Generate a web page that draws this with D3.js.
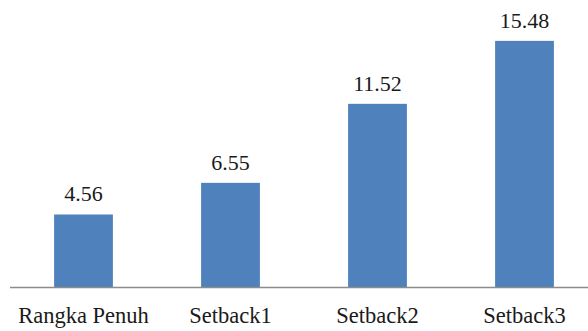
<!DOCTYPE html>
<html>
<head>
<meta charset="utf-8">
<script src="https://cdn.jsdelivr.net/npm/d3@7"></script>
<style>
  html, body { margin: 0; padding: 0; background: #fff; }
  svg { display: block; }
</style>
</head>
<body>
<svg id="chart" width="588" height="331" font-family="Times New Roman, Times, Liberation Serif, Tinos, DejaVu Serif, serif"></svg>
<script>
// Categories and their values
const categories = ["Rangka Penuh", "Setback1", "Setback2", "Setback3"];
const values = [4.56, 6.55, 11.52, 15.48];
const yMax = 18;

const svg = d3.select("#chart");
const baseY = 287;

const x = d3.scaleBand()
  .domain(categories)
  .range([10, 598])
  .paddingInner(0.6)
  .paddingOuter(0.3);

const y = d3.scaleLinear()
  .domain([0, yMax])
  .range([baseY, baseY - yMax * 15.9]);

const data = categories.map((c, i) => ({ c, v: values[i] }));

// Bars
svg.selectAll("rect.bar")
  .data(data)
  .join("rect")
  .attr("class", "bar")
  .attr("x", d => x(d.c))
  .attr("y", d => y(d.v))
  .attr("width", x.bandwidth())
  .attr("height", d => y(0) - y(d.v))
  .attr("fill", "#4F81BD");

// Category axis
const axis = svg.append("g")
  .attr("transform", `translate(0,${baseY})`)
  .call(d3.axisBottom(x).tickSize(0).tickPadding(20));
axis.attr("font-family", null).attr("font-size", 22.5);
axis.select(".domain").attr("stroke", "#8c8c8c").attr("stroke-width", 1.5)
  .attr("d", `M10,0.5H588`);
axis.selectAll("text").attr("fill", "#1a1a1a");

// Value labels above bars
svg.selectAll("text.val")
  .data(data)
  .join("text")
  .attr("class", "val")
  .attr("x", d => x(d.c) + x.bandwidth() / 2)
  .attr("y", d => y(d.v) - 13)
  .attr("text-anchor", "middle")
  .attr("font-size", 22)
  .attr("fill", "#1a1a1a")
  .text(d => d.v.toFixed(2));
</script>
</body>
</html>
